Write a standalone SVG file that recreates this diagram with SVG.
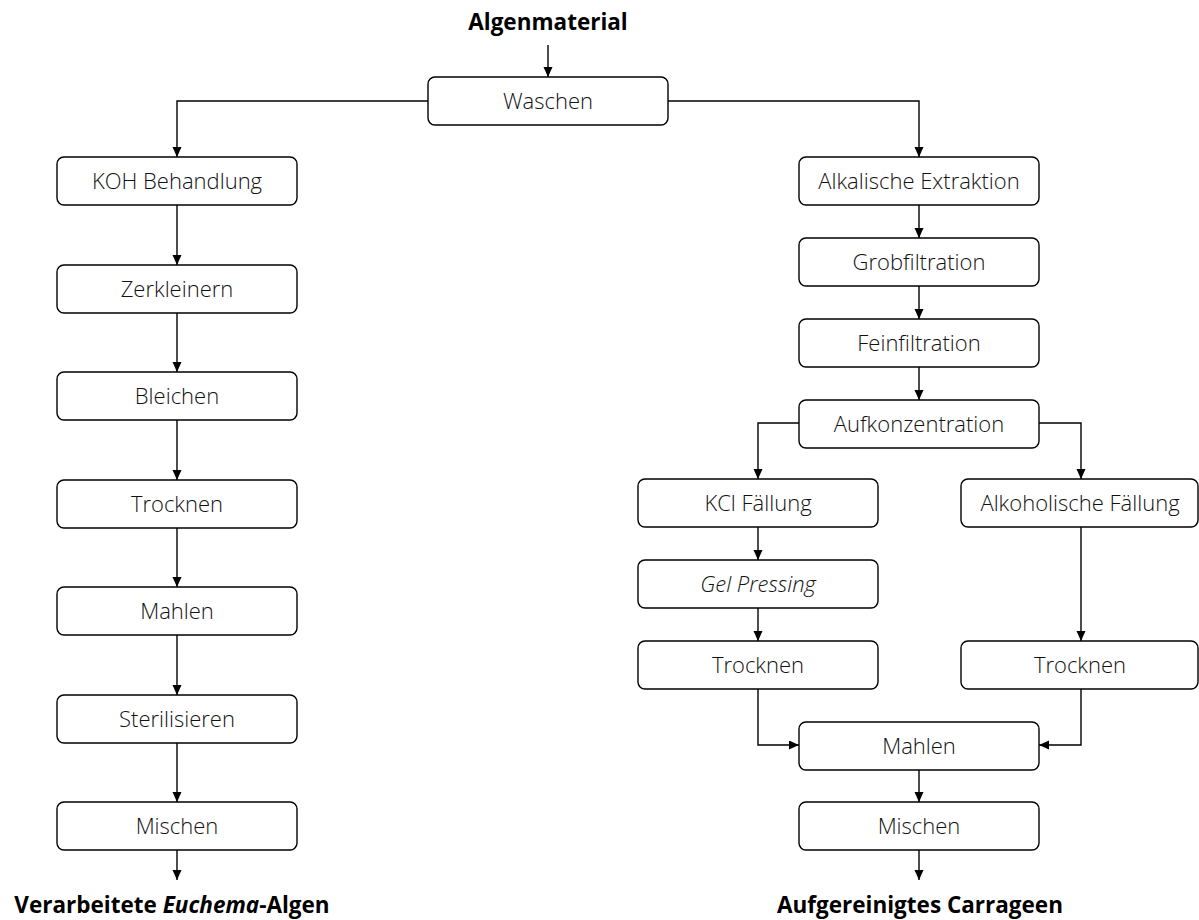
<svg xmlns="http://www.w3.org/2000/svg" width="1199" height="920" viewBox="0 0 1199 920">
<style>
.box{fill:#fff;stroke:#000;stroke-width:1.4}
.t{font-family:"Open Sans","Noto Sans","Liberation Sans",sans-serif;font-size:22px;font-weight:300;fill:#111;text-anchor:middle}
.b{font-family:"Open Sans","Noto Sans","Liberation Sans",sans-serif;font-size:22.5px;font-weight:700;fill:#000;text-anchor:middle}
.c{fill:none;stroke:#000;stroke-width:1.4;marker-end:url(#ah)}
</style>
<defs>
<marker id="ah" markerUnits="userSpaceOnUse" markerWidth="10" markerHeight="10" refX="10" refY="4.5" orient="auto">
<path d="M0,0 L10,4.5 L0,9 z" fill="#000"/>
</marker>
</defs>
<g id="connectors">
<path class="c" d="M548,45 V77"/>
<path class="c" d="M428,101 H177 V157"/>
<path class="c" d="M668,101 H919 V157"/>
<path class="c" d="M177,205 V265"/>
<path class="c" d="M177,313 V372"/>
<path class="c" d="M177,420 V480"/>
<path class="c" d="M177,528 V587"/>
<path class="c" d="M177,635 V695"/>
<path class="c" d="M177,743 V802"/>
<path class="c" d="M177,850 V880"/>
<path class="c" d="M919,205 V238"/>
<path class="c" d="M919,286 V319"/>
<path class="c" d="M919,367 V400"/>
<path class="c" d="M799,423 H758 V479"/>
<path class="c" d="M1039,423 H1081 V479"/>
<path class="c" d="M758,527 V560"/>
<path class="c" d="M758,608 V641"/>
<path class="c" d="M1081,527 V641"/>
<path class="c" d="M758,689 V745 H799"/>
<path class="c" d="M1081,689 V745 H1039"/>
<path class="c" d="M919,769 V802"/>
<path class="c" d="M919,850 V880"/>
</g>
<g id="start"><text class="b" x="548" y="30">Algenmaterial</text></g>
<g id="waschen"><rect class="box" x="428" y="77" width="240" height="48" rx="7"/><text class="t" x="548" y="109">Waschen</text></g>
<g id="koh"><rect class="box" x="57" y="157" width="240" height="48" rx="7"/><text class="t" x="177" y="189">KOH Behandlung</text></g>
<g id="zerkleinern"><rect class="box" x="57" y="265" width="240" height="48" rx="7"/><text class="t" x="177" y="297">Zerkleinern</text></g>
<g id="bleichen"><rect class="box" x="57" y="372" width="240" height="48" rx="7"/><text class="t" x="177" y="404">Bleichen</text></g>
<g id="trocknen-l"><rect class="box" x="57" y="480" width="240" height="48" rx="7"/><text class="t" x="177" y="512">Trocknen</text></g>
<g id="mahlen-l"><rect class="box" x="57" y="587" width="240" height="48" rx="7"/><text class="t" x="177" y="619">Mahlen</text></g>
<g id="sterilisieren"><rect class="box" x="57" y="695" width="240" height="48" rx="7"/><text class="t" x="177" y="727">Sterilisieren</text></g>
<g id="mischen-l"><rect class="box" x="57" y="802" width="240" height="48" rx="7"/><text class="t" x="177" y="834">Mischen</text></g>
<g id="end-l"><text class="b" x="172" y="913">Verarbeitete <tspan font-style="italic">Euchema</tspan>-Algen</text></g>
<g id="alkalisch"><rect class="box" x="799" y="157" width="240" height="48" rx="7"/><text class="t" x="919" y="189">Alkalische Extraktion</text></g>
<g id="grob"><rect class="box" x="799" y="238" width="240" height="48" rx="7"/><text class="t" x="919" y="270">Grobfiltration</text></g>
<g id="fein"><rect class="box" x="799" y="319" width="240" height="48" rx="7"/><text class="t" x="919" y="351">Feinfiltration</text></g>
<g id="aufkonz"><rect class="box" x="799" y="400" width="240" height="48" rx="7"/><text class="t" x="919" y="432">Aufkonzentration</text></g>
<g id="kcl"><rect class="box" x="638" y="479" width="240" height="48" rx="7"/><text class="t" x="758" y="511">KCl Fällung</text></g>
<g id="alkohol"><rect class="box" x="961" y="479" width="237" height="48" rx="7"/><text class="t" x="1080" y="511">Alkoholische Fällung</text></g>
<g id="gel"><rect class="box" x="638" y="560" width="240" height="48" rx="7"/><text class="t" x="758" y="592" font-style="italic">Gel Pressing</text></g>
<g id="trocknen-r1"><rect class="box" x="638" y="641" width="240" height="48" rx="7"/><text class="t" x="758" y="673">Trocknen</text></g>
<g id="trocknen-r2"><rect class="box" x="961" y="641" width="237" height="48" rx="7"/><text class="t" x="1080" y="673">Trocknen</text></g>
<g id="mahlen-r"><rect class="box" x="799" y="722" width="240" height="48" rx="7"/><text class="t" x="919" y="754">Mahlen</text></g>
<g id="mischen-r"><rect class="box" x="799" y="802" width="240" height="48" rx="7"/><text class="t" x="919" y="834">Mischen</text></g>
<g id="end-r"><text class="b" x="920" y="913">Aufgereinigtes Carrageen</text></g>
</svg>
